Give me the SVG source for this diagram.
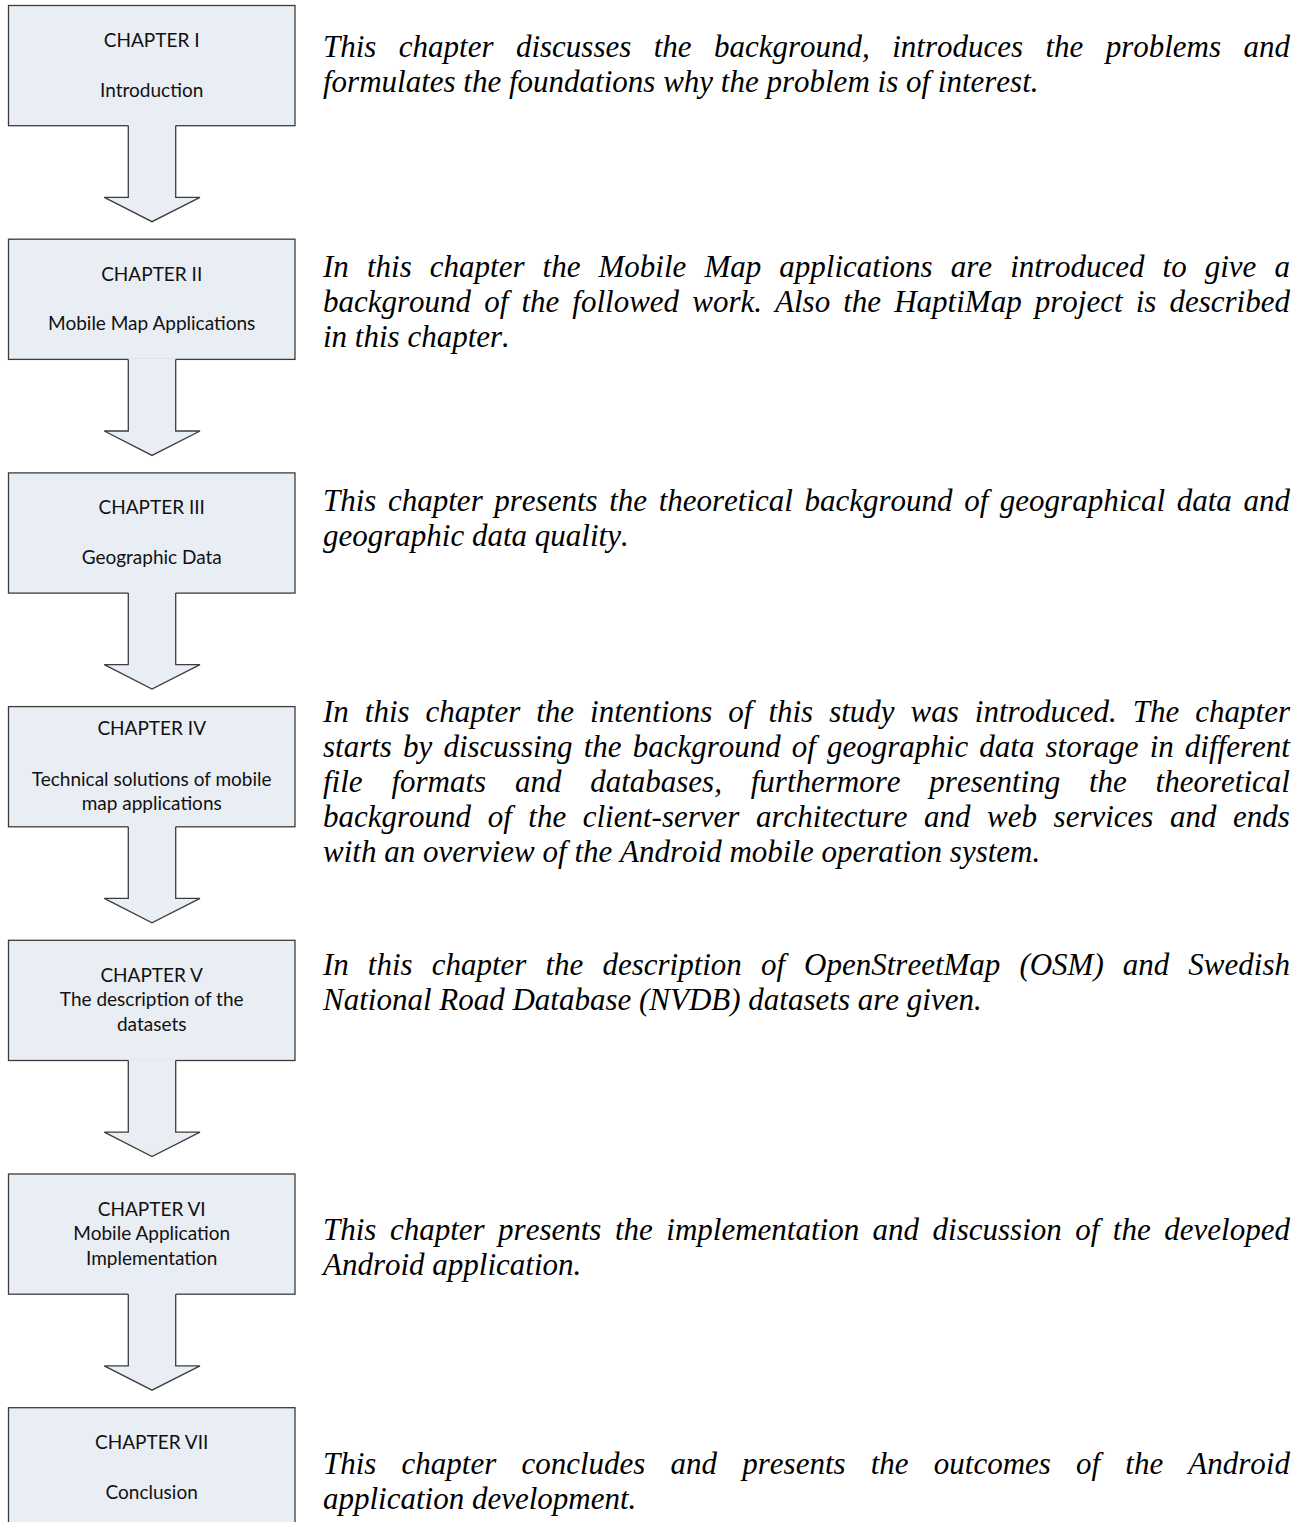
<svg xmlns="http://www.w3.org/2000/svg" width="1305" height="1522" viewBox="0 0 1305 1522">
  <style>
    .box{fill:#e9edf4;stroke:#3c3c3c;stroke-width:1.3}
    .lbl{font-family:Lato,"Liberation Sans",sans-serif;font-size:19px;fill:#111;text-anchor:middle}
    .para{font-family:"Liberation Serif","Times New Roman",serif;font-style:italic;font-size:31px;fill:#000;font-kerning:none;font-variant-ligatures:none}
    .afill{fill:#e9edf4}
    .aline{fill:none;stroke:#3c3c3c;stroke-width:1.3;stroke-linejoin:miter}
  </style>
  <defs>
    <!-- block arrow hanging from a box bottom (box top = 0, box bottom = 120.2) -->
    <g id="arrow">
      <path class="afill" d="M128.3,119 V191.8 H104.3 L152,216.2 L200,191.8 H175.7 V119 Z"/>
      <path class="aline" d="M128.3,120.2 V191.8 H104.3 L152,216.2 L200,191.8 H175.7 V120.2"/>
    </g>
  </defs>

  <rect width="1305" height="1522" fill="#ffffff"/>

  <!-- chapter boxes -->
  <g id="ch1">
    <rect class="box" x="8.5" y="5.5" width="286.5" height="120.2"/>
    <text class="lbl" x="151.7" y="47">CHAPTER I</text>
    <text class="lbl" x="151.7" y="96.7">Introduction</text>
  </g>
  <g id="ch2">
    <rect class="box" x="8.5" y="239.2" width="286.5" height="120.2"/>
    <text class="lbl" x="151.7" y="280.7">CHAPTER II</text>
    <text class="lbl" x="151.7" y="330.4">Mobile Map Applications</text>
  </g>
  <g id="ch3">
    <rect class="box" x="8.5" y="472.9" width="286.5" height="120.2"/>
    <text class="lbl" x="151.7" y="514.4">CHAPTER III</text>
    <text class="lbl" x="151.7" y="564.1">Geographic Data</text>
  </g>
  <g id="ch4">
    <rect class="box" x="8.5" y="706.6" width="286.5" height="120.2"/>
    <text class="lbl" x="151.7" y="735">CHAPTER IV</text>
    <text class="lbl" x="151.7" y="786.3">Technical solutions of mobile</text>
    <text class="lbl" x="151.7" y="810">map applications</text>
  </g>
  <g id="ch5">
    <rect class="box" x="8.5" y="940.3" width="286.5" height="120.2"/>
    <text class="lbl" x="151.7" y="981.5">CHAPTER V</text>
    <text class="lbl" x="151.7" y="1006">The description of the</text>
    <text class="lbl" x="151.7" y="1030.5">datasets</text>
  </g>
  <g id="ch6">
    <rect class="box" x="8.5" y="1174" width="286.5" height="120.2"/>
    <text class="lbl" x="151.7" y="1215.8">CHAPTER VI</text>
    <text class="lbl" x="151.7" y="1240">Mobile Application</text>
    <text class="lbl" x="151.7" y="1264.8">Implementation</text>
  </g>
  <g id="ch7">
    <rect class="box" x="8.5" y="1407.7" width="286.5" height="120.2"/>
    <text class="lbl" x="151.7" y="1449.3">CHAPTER VII</text>
    <text class="lbl" x="151.7" y="1499.2">Conclusion</text>
  </g>

  <!-- connectors -->
  <g id="connectors">
    <use href="#arrow" transform="translate(0,5.5)"/>
    <use href="#arrow" transform="translate(0,239.2)"/>
    <use href="#arrow" transform="translate(0,472.9)"/>
    <use href="#arrow" transform="translate(0,706.6)"/>
    <use href="#arrow" transform="translate(0,940.3)"/>
    <use href="#arrow" transform="translate(0,1174)"/>
  </g>

  <!-- chapter descriptions (justified lines use word-spacing) -->
  <g id="desc1" class="para">
    <text x="323" y="57" style="word-spacing:14.64px">This chapter discusses the background, introduces the problems and</text>
    <text x="323" y="92">formulates the foundations why the problem is of interest.</text>
  </g>
  <g id="desc2" class="para">
    <text x="323" y="277" style="word-spacing:10.34px">In this chapter the Mobile Map applications are introduced to give a</text>
    <text x="323" y="312" style="word-spacing:5.34px">background of the followed work. Also the HaptiMap project is described</text>
    <text x="323" y="347">in this chapter.</text>
  </g>
  <g id="desc3" class="para">
    <text x="323" y="511" style="word-spacing:3.83px">This chapter presents the theoretical background of geographical data and</text>
    <text x="323" y="546">geographic data quality.</text>
  </g>
  <g id="desc4" class="para">
    <text x="323" y="722" style="word-spacing:8.22px">In this chapter the intentions of this study was introduced. The chapter</text>
    <text x="323" y="757" style="word-spacing:3.35px">starts by discussing the background of geographic data storage in different</text>
    <text x="323" y="792" style="word-spacing:21.03px">file formats and databases, furthermore presenting the theoretical</text>
    <text x="323" y="827" style="word-spacing:8.81px">background of the client-server architecture and web services and ends</text>
    <text x="323" y="862">with an overview of the Android mobile operation system.</text>
  </g>
  <g id="desc5" class="para">
    <text x="323" y="975" style="word-spacing:11.3px">In this chapter the description of OpenStreetMap (OSM) and Swedish</text>
    <text x="323" y="1010">National Road Database (NVDB) datasets are given.</text>
  </g>
  <g id="desc6" class="para">
    <text x="323" y="1240" style="word-spacing:5.74px">This chapter presents the implementation and discussion of the developed</text>
    <text x="323" y="1275">Android application.</text>
  </g>
  <g id="desc7" class="para">
    <text x="323" y="1474" style="word-spacing:17.42px">This chapter concludes and presents the outcomes of the Android</text>
    <text x="323" y="1509">application development.</text>
  </g>
</svg>
